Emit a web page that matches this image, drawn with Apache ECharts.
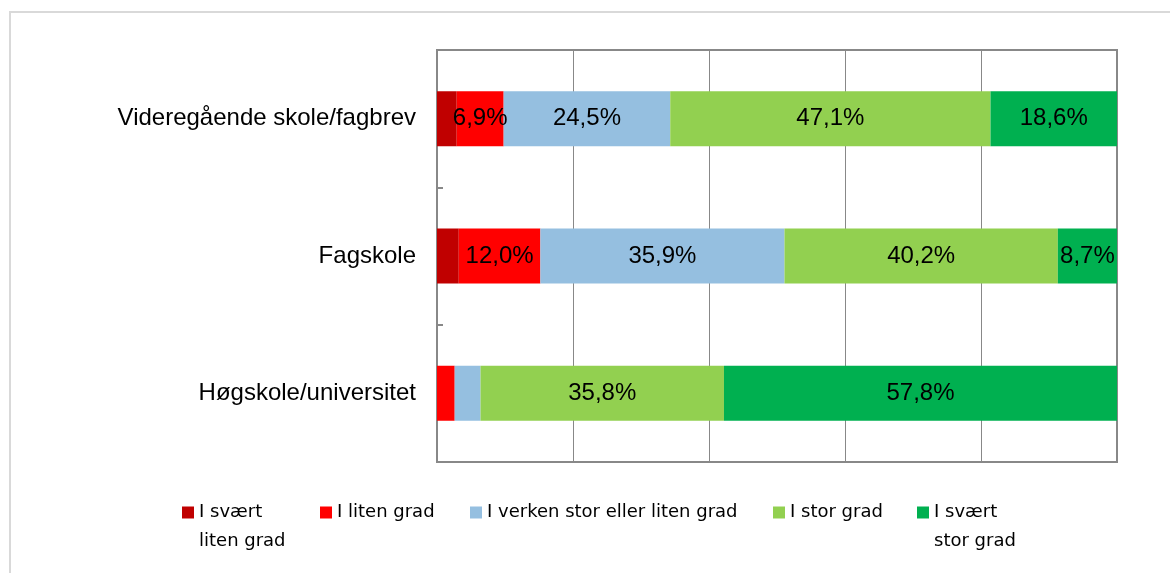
<!DOCTYPE html>
<html>
<head>
<meta charset="utf-8">
<script src="https://cdn.jsdelivr.net/npm/echarts@6/dist/echarts.min.js"></script>
<style>
html,body{margin:0;padding:0;background:#fff;}
#c{width:1170px;height:573px;}
</style>
</head>
<body>
<div id="c"></div>
<script>
const categories = ['Videregående skole/fagbrev', 'Fagskole', 'Høgskole/universitet'];
const seriesNames = ['I svært liten grad', 'I liten grad', 'I verken stor eller liten grad', 'I stor grad', 'I svært stor grad'];
const svaertLiten = [2.9, 3.2, 0];
const liten = [6.9, 12.0, 2.6];
const verken = [24.5, 35.9, 3.8];
const stor = [47.1, 40.2, 35.8];
const svaertStor = [18.6, 8.7, 57.8];
const xTicks = [0, 20, 40, 60, 80, 100];

const values = [svaertLiten, liten, verken, stor, svaertStor];
const colors = ['#C00000', '#FF0000', '#95BFE0', '#92D050', '#00B050'];
const legendLines = [['I svært', 'liten grad'], ['I liten grad', ' '], ['I verken stor eller liten grad', ' '], ['I stor grad', ' '], ['I svært', 'stor grad']];
const legendLeft = [182, 320, 470, 773, 917];

const chart = echarts.init(document.getElementById('c'), null, {renderer: 'canvas'});

const series = values.map((arr, i) => ({
  name: seriesNames[i],
  type: 'bar',
  stack: 'total',
  barCategoryGap: '60%',
  data: arr,
  itemStyle: {color: colors[i]},
  label: {
    show: true,
    position: 'inside',
    color: '#000',
    fontFamily: 'Liberation Sans, Arial, sans-serif',
    fontSize: 24,
    formatter: p => p.value >= 5 ? p.value.toFixed(1).replace('.', ',') + '%' : ''
  }
}));

const legends = seriesNames.map((n, i) => ({
  data: [n],
  left: legendLeft[i],
  top: 469,
  padding: 0,
  itemWidth: 12,
  itemHeight: 12,
  icon: 'rect',
  itemStyle: {borderWidth: 0},
  formatter: () => ' \n' + legendLines[i][0] + '\n' + legendLines[i][1],
  textStyle: {fontFamily: 'DejaVu Sans', fontSize: 18, color: '#000', lineHeight: 29},
  selectedMode: false
}));

chart.setOption({
  animation: false,
  backgroundColor: '#fff',
  graphic: [{
    type: 'rect',
    shape: {x: 10, y: 12, width: 1200, height: 620},
    style: {fill: 'none', stroke: '#d9d9d9', lineWidth: 2},
    silent: true,
    z: -10
  }],
  legend: legends,
  grid: {left: 437, right: 53, top: 50, bottom: 111, show: true, borderColor: '#888', borderWidth: 2, backgroundColor: 'transparent'},
  xAxis: {
    type: 'value',
    min: xTicks[0],
    max: xTicks[xTicks.length - 1],
    interval: xTicks[1] - xTicks[0],
    axisLabel: {show: false},
    axisTick: {show: false},
    axisLine: {show: false},
    splitLine: {show: true, lineStyle: {color: '#888', width: 1}}
  },
  yAxis: {
    type: 'category',
    data: categories,
    inverse: true,
    axisLine: {show: true, lineStyle: {color: '#888', width: 2}},
    axisTick: {show: true, inside: true, length: 6, lineStyle: {color: '#888', width: 2}},
    axisLabel: {color: '#000', fontSize: 24, fontFamily: 'Liberation Sans, Arial, sans-serif', margin: 21}
  },
  series: series
});
</script>
</body>
</html>
